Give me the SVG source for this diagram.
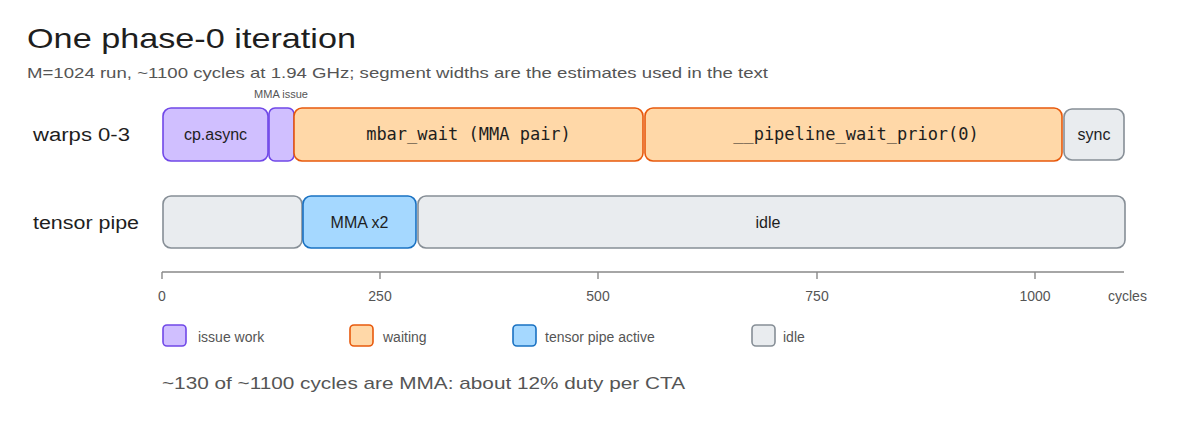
<svg xmlns="http://www.w3.org/2000/svg" width="1200" height="436" viewBox="0 0 1200 436">
<style>
.hand{font-family:"Liberation Sans","DejaVu Sans",sans-serif;}
.mono{font-family:"DejaVu Sans Mono","Liberation Mono",monospace;font-size:17px;fill:#1e1e1e;}
.title{font-size:28px;fill:#1e1e1e;}
.sub{font-size:15px;fill:#555;}
.row{font-size:18px;fill:#1e1e1e;}
.lbl{font-size:16px;fill:#1e1e1e;}
.small{font-size:11px;fill:#555;}
.tick{font-size:14px;fill:#555;}
.leg{font-size:14px;fill:#555;}
.foot{font-size:17px;fill:#555;}
.issue{fill:#d0bfff;stroke:#7048e8;stroke-width:1.6;}
.wait{fill:#ffd8a8;stroke:#e8590c;stroke-width:1.6;}
.active{fill:#a5d8ff;stroke:#1971c2;stroke-width:1.6;}
.idle{fill:#e9ecef;stroke:#868e96;stroke-width:1.6;}
.axis{stroke:#888;stroke-width:1.4;fill:none;}
</style>
<rect width="1200" height="436" fill="#ffffff"/>
<g id="title">
<text class="hand title" x="27" y="48" textLength="329" lengthAdjust="spacingAndGlyphs">One phase-0 iteration</text>
<text class="hand sub" x="27" y="78" textLength="741" lengthAdjust="spacingAndGlyphs">M=1024 run, ~1100 cycles at 1.94 GHz; segment widths are the estimates used in the text</text>
</g>
<g id="row-labels">
<text class="hand row" x="33" y="141" textLength="97" lengthAdjust="spacingAndGlyphs">warps 0-3</text>
<text class="hand row" x="33" y="229" textLength="106" lengthAdjust="spacingAndGlyphs">tensor pipe</text>
</g>
<g id="seg-cpasync">
<rect class="issue" x="163" y="108" width="105" height="53" rx="8"/>
<text class="hand lbl" x="215.5" y="140" text-anchor="middle">cp.async</text>
</g>
<g id="seg-mma-issue">
<rect class="issue" x="269" y="108" width="25" height="53" rx="6"/>
<text class="hand small" x="281" y="98" text-anchor="middle">MMA issue</text>
</g>
<g id="seg-mbar-wait">
<rect class="wait" x="294" y="108" width="349" height="53" rx="8"/>
<text class="mono" x="468.5" y="140" text-anchor="middle">mbar_wait (MMA pair)</text>
</g>
<g id="seg-pipeline-wait">
<rect class="wait" x="645" y="108" width="417" height="53" rx="8"/>
<text class="mono" x="856" y="140" text-anchor="middle">__pipeline_wait_prior(0)</text>
</g>
<g id="seg-sync">
<rect class="idle" x="1064" y="109" width="60" height="51" rx="8"/>
<text class="hand lbl" x="1094" y="140" text-anchor="middle">sync</text>
</g>
<g id="seg-tp-idle1">
<rect class="idle" x="163" y="196" width="139" height="52" rx="8"/>
</g>
<g id="seg-tp-mma">
<rect class="active" x="303" y="196" width="113" height="52" rx="8"/>
<text class="hand lbl" x="359.5" y="228" text-anchor="middle">MMA x2</text>
</g>
<g id="seg-tp-idle2">
<rect class="idle" x="418" y="196" width="707" height="52" rx="8"/>
<text class="hand lbl" x="768" y="228" text-anchor="middle">idle</text>
</g>
<g id="axis">
<line class="axis" x1="162" y1="272" x2="1124" y2="272"/>
<line class="axis" x1="162" y1="272" x2="162" y2="279"/>
<line class="axis" x1="380" y1="272" x2="380" y2="279"/>
<line class="axis" x1="598" y1="272" x2="598" y2="279"/>
<line class="axis" x1="817" y1="272" x2="817" y2="279"/>
<line class="axis" x1="1035" y1="272" x2="1035" y2="279"/>
<text class="hand tick" x="162" y="301" text-anchor="middle">0</text>
<text class="hand tick" x="380" y="301" text-anchor="middle">250</text>
<text class="hand tick" x="598" y="301" text-anchor="middle">500</text>
<text class="hand tick" x="817" y="301" text-anchor="middle">750</text>
<text class="hand tick" x="1035" y="301" text-anchor="middle">1000</text>
<text class="hand tick" x="1108" y="301">cycles</text>
</g>
<g id="legend">
<rect class="issue" x="163" y="325" width="23" height="21" rx="4"/>
<text class="hand leg" x="198" y="342">issue work</text>
<rect class="wait" x="350" y="325" width="23" height="21" rx="4"/>
<text class="hand leg" x="383" y="342">waiting</text>
<rect class="active" x="513" y="325" width="23" height="21" rx="4"/>
<text class="hand leg" x="545" y="342">tensor pipe active</text>
<rect class="idle" x="752" y="325" width="23" height="21" rx="4"/>
<text class="hand leg" x="783" y="342">idle</text>
</g>
<g id="footer">
<text class="hand foot" x="162" y="389" textLength="523" lengthAdjust="spacingAndGlyphs">~130 of ~1100 cycles are MMA: about 12% duty per CTA</text>
</g>
<g id="connectors"></g>
</svg>
